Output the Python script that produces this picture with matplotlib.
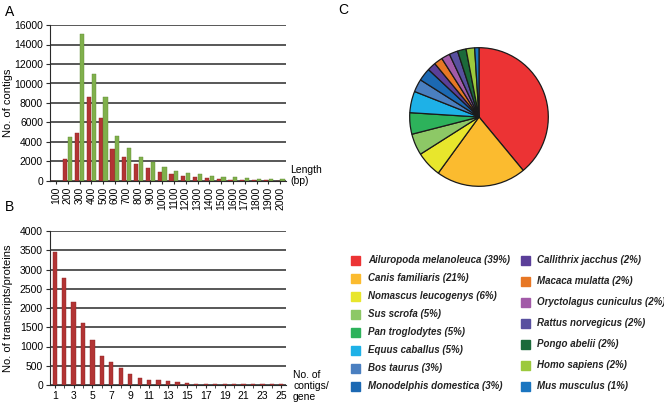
import matplotlib
matplotlib.use("Agg")
import matplotlib.pyplot as plt
import numpy as np

plt.rcParams["font.family"] = ["Liberation Sans", "DejaVu Sans"]

# Panel A: contig length distribution
length_bins = ["100", "200", "300", "400", "500", "600", "700", "800", "900", "1000",
               "1100", "1200", "1300", "1400", "1500", "1600", "1700", "1800", "1900", "2000"]
contigs_red = [30, 2300, 4900, 8600, 6500, 3300, 2500, 1700, 1300, 950,
               700, 500, 400, 300, 200, 150, 100, 100, 60, 50]
contigs_green = [30, 4500, 15100, 11000, 8600, 4600, 3400, 2500, 1900, 1450,
                 1050, 850, 700, 550, 400, 400, 300, 250, 200, 200]

# Panel B: contigs per gene
contigs_per_gene = list(range(1, 26))
transcripts = [3450, 2780, 2150, 1620, 1170, 760, 610, 430, 280, 180,
               140, 120, 100, 80, 55, 35, 25, 20, 20, 18, 15, 15, 15, 15, 15]

# Panel C: species distribution
species = ["Ailuropoda melanoleuca", "Canis familiaris", "Nomascus leucogenys",
           "Sus scrofa", "Pan troglodytes", "Equus caballus", "Bos taurus",
           "Monodelphis domestica", "Callithrix jacchus", "Macaca mulatta",
           "Oryctolagus cuniculus", "Rattus norvegicus", "Pongo abelii",
           "Homo sapiens", "Mus musculus"]
species_pct = [39, 21, 6, 5, 5, 5, 3, 3, 2, 2, 2, 2, 2, 2, 1]
species_colors = ["#ec3334", "#fbbb2f", "#e8e62c", "#8dc866", "#2db25b",
                  "#1eb1e7", "#4a7fc0", "#1c69b3", "#5b3f99", "#e77724",
                  "#a25aa8", "#58509f", "#1b6a3a", "#9cc93d", "#1a75c0"]

RED = "#b23434"
GREEN = "#80b04c"
GRID = "#2a2a2a"

fig = plt.figure(figsize=(6.64, 4.04), dpi=100)


def style_bar_axes(ax, ymax, step):
    ax.set_ylim(0, ymax)
    ax.set_yticks(np.arange(0, ymax + 1, step))
    ax.yaxis.grid(True, color=GRID, linewidth=1.1)
    ax.set_axisbelow(True)
    for side in ("top", "right"):
        ax.spines[side].set_visible(False)
    ax.spines["left"].set_color(GRID)
    ax.spines["bottom"].set_color(GRID)
    ax.tick_params(axis="both", labelsize=7.5, length=2, color=GRID, pad=2)
    ax.tick_params(axis="y", length=3)


# --- A ---
axA = fig.add_axes([50 / 664, 1 - 181 / 404, 236 / 664, 156 / 404])
x = np.arange(len(length_bins))
w = 0.36
axA.bar(x - w / 2 - 0.02, contigs_red, w, color=RED, edgecolor="#8e2323", linewidth=0.3)
axA.bar(x + w / 2 + 0.02, contigs_green, w, color=GREEN, edgecolor="#5f8a33", linewidth=0.3)
axA.set_xlim(-0.5, len(length_bins) - 0.5)
style_bar_axes(axA, 16000, 2000)
axA.set_xticks(x)
axA.set_xticklabels(length_bins, rotation=90)
axA.set_ylabel("No. of contigs", fontsize=8)
axA.yaxis.set_label_coords(-0.155, 0.5)
fig.text(290 / 664, 1 - 186 / 404, "Length\n(bp)", fontsize=7.5, ha="left", va="bottom",
         linespacing=1.1)
fig.text(5 / 664, 1 - 12 / 404, "A", fontsize=10, ha="left", va="center")

# --- B ---
axB = fig.add_axes([50 / 664, 1 - 385 / 404, 236 / 664, 154 / 404])
axB.bar(contigs_per_gene, transcripts, 0.45, color=RED, edgecolor="#8e2323", linewidth=0.3)
axB.set_xlim(0.5, 25.5)
style_bar_axes(axB, 4000, 500)
axB.set_xticks(contigs_per_gene[::2])
axB.set_xticks(contigs_per_gene, minor=True)
axB.tick_params(axis="x", which="minor", length=2, color=GRID)
axB.set_ylabel("No. of transcripts/proteins", fontsize=8)
axB.yaxis.set_label_coords(-0.155, 0.5)
fig.text(293 / 664, 1 - 402 / 404, "No. of\ncontigs/\ngene", fontsize=7.5, ha="left",
         va="bottom", linespacing=1.1)
fig.text(5 / 664, 1 - 207 / 404, "B", fontsize=10, ha="left", va="center")

# --- C ---
r_px = 70
axC = fig.add_axes([(479 - r_px) / 664, 1 - (117 + r_px) / 404,
                    (2 * r_px) / 664, (2 * r_px) / 404])
axC.pie(species_pct, colors=species_colors, startangle=90, counterclock=False,
        wedgeprops=dict(edgecolor="#1a1a1a", linewidth=0.9))
axC.set_xlim(-1.01, 1.01)
axC.set_ylim(-1.01, 1.01)
axC.axis("off")
fig.text(338 / 664, 1 - 10 / 404, "C", fontsize=10, ha="left", va="center")

# legend, two columns
col1 = range(0, 8)
col2 = range(8, 15)
for k, i in enumerate(col1):
    y = 260 + k * 18
    fig.patches.append(plt.Rectangle((351 / 664, 1 - (y + 4.5) / 404), 9 / 664, 9 / 404,
                                     transform=fig.transFigure, color=species_colors[i]))
    fig.text(368 / 664, 1 - y / 404, f"{species[i]} ({species_pct[i]}%)", fontsize=7.0,
             style="italic", weight="bold", ha="left", va="center", color="#222222")
for k, i in enumerate(col2):
    y = 260 + k * 21
    fig.patches.append(plt.Rectangle((521 / 664, 1 - (y + 4.5) / 404), 9 / 664, 9 / 404,
                                     transform=fig.transFigure, color=species_colors[i]))
    fig.text(537 / 664, 1 - y / 404, f"{species[i]} ({species_pct[i]}%)", fontsize=7.0,
             style="italic", weight="bold", ha="left", va="center", color="#222222")

fig.savefig("out.png", dpi=100)
